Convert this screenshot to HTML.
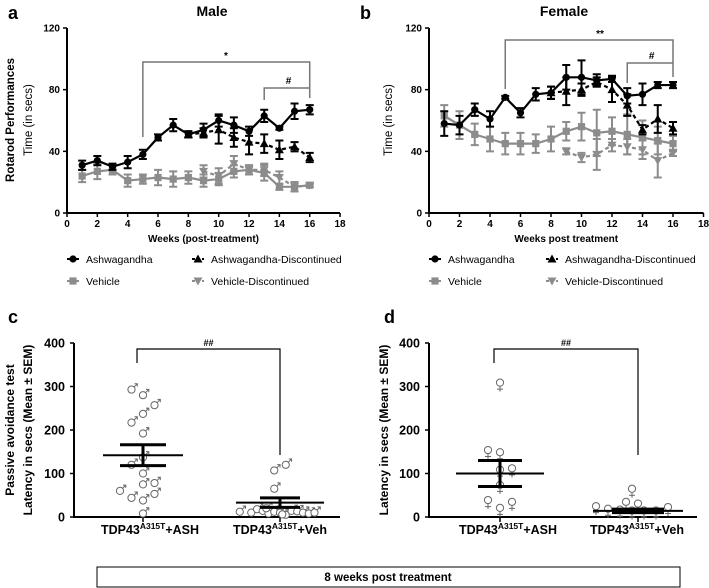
<!DOCTYPE html>
<html><head><meta charset="utf-8">
<style>
html,body{margin:0;padding:0;background:#fff;}
svg{display:block;font-family:"Liberation Sans",Arial,sans-serif;}
</style></head>
<body>
<svg id="fig" width="709" height="588" viewBox="0 0 709 588"></svg>
<script>
const weeks=[1,2,3,4,5,6,7,8,9,10,11,12,13,14,15,16];
const discWeeks=[9,10,11,12,13,14,15,16];
const xTicks=[0,2,4,6,8,10,12,14,16,18];
const yTicksLine=[0,40,80,120];
const yTicksScatter=[0,100,200,300,400];
// Male
const maleAsh=[31,34,30,33,38,49,57,51,54,60,57,53,63,55,66,67];
const maleAshErr=[3,3,2,4,3,2,4,2,4,4,5,3,4,1,5,3];
const maleAshDisc=[52,54,49,46,45,41,43,36];
const maleAshDiscErr=[3,9,6,8,6,6,3,3];
const maleVeh=[24,27,28,21,22,23,22,23,21,22,27,28,26,17,17,18];
const maleVehErr=[4,5,3,4,3,5,5,4,4,4,4,3,5,2,3,1];
const maleVehDisc=[27,24,32,28,28,23,17,18];
const maleVehDiscErr=[4,5,5,3,4,4,3,1];
// Female
const femAsh=[58,57,67,61,75,65,77,78,88,88,86,87,76,77,83,83];
const femAshErr=[8,6,4,5,1,3,4,4,8,11,4,2,5,7,2,2];
const femAshDisc=[79,80,85,80,70,54,61,55];
const femAshDiscErr=[9,4,3,8,7,3,9,4];
const femVeh=[63,57,51,48,45,45,45,48,53,56,52,53,51,49,47,45];
const femVehErr=[7,9,7,8,7,7,6,8,6,9,15,9,13,11,9,5];
const femVehDisc=[40,36,38,44,43,41,34,39];
const femVehDiscErr=[2,3,10,4,5,6,11,2];
// Passive avoidance (c male, d female)
const cAsh=[293,280,257,237,217,192,137,120,100,75,78,60,44,38,53,8];
const cAshCol=[-1,0,1,0,-1,0,0,-1,0,0,1,-2,-1,0,1,0];
const cAshStats=[142,118,166];
const cVeh=[120,107,65,12,10,18,14,8,12,10,5,14,13,10,8,10,20,6];
const cVehCol=[0.5,-0.5,-0.5,-3.5,-2.5,-2,-1.5,-1,-0.5,0,0.5,1,1.5,2,2.5,3,-1.2,0.2];
const cVehStats=[33,22,44];
const dAsh=[302,147,142,102,105,67,32,28,14];
const dAshCol=[0,-1,0,0,1,0,-1,1,0];
const dAshStats=[100,70,130];
const dVeh=[58,28,24,18,16,12,10,8,8,8];
const dVehCol=[-0.5,-1,0,-3.5,2.5,-2.5,-1.5,-0.5,0.5,1.5];
const dVehStats=[14,10,18];

const NS="http://www.w3.org/2000/svg";
const svg=document.getElementById('fig');
function mk(tag,attrs,name,parent){
  const el=document.createElementNS(NS,tag);
  for(const k in attrs) el.setAttribute(k,attrs[k]);
  
  
  (parent||svg).appendChild(el);
  return el;
}
function txt(x,y,s,size,name,anchor,extra){
  const t=mk('text',Object.assign({x:x,y:y,'font-size':size,'font-weight':'bold','text-anchor':anchor||'middle',fill:'#000'},extra||{}),name);
  t.textContent=s;return t;
}
function marker(type,x,y,color,name){
  if(type==='circle') mk('circle',{cx:x,cy:y,r:3.6,fill:color},name);
  else if(type==='square') mk('rect',{x:x-3.6,y:y-3.6,width:7.2,height:7.2,fill:color},name);
  else if(type==='tri') mk('polygon',{points:`${x},${y-4.5} ${x-4.5},${y+3.5} ${x+4.5},${y+3.5}`,fill:color},name);
  else mk('polygon',{points:`${x},${y+4.5} ${x-4.5},${y-3.5} ${x+4.5},${y-3.5}`,fill:color},name);
}
function series(sx,sy,xs,vals,errs,color,dash,type,name){
  let d='';
  xs.forEach((w,i)=>{d+=(i?'L':'M')+sx(w)+','+sy(vals[i]);});
  mk('path',{d:d,fill:'none',stroke:color,'stroke-width':2.2,'stroke-dasharray':dash||'none'},name+'-line');
  xs.forEach((w,i)=>{
    const x=sx(w),y1=sy(vals[i]-errs[i]),y2=sy(vals[i]+errs[i]);
    mk('path',{d:`M${x},${y1}V${y2}M${x-4},${y1}H${x+4}M${x-4},${y2}H${x+4}`,stroke:color,'stroke-width':2,fill:'none'},name+'-errorbar');
    marker(type,x,sy(vals[i]),color,name+'-point');
  });
}
function linePanel(o){
  const sx=w=>o.x0+w*o.kx, sy=v=>o.y0-v*(o.y0-o.y120)/120;
  mk('path',{d:`M${o.x0},${o.y120}V${o.y0}H${sx(18)}`,stroke:'#000','stroke-width':2,fill:'none'},o.p+'-axes');
  yTicksLine.forEach(v=>{
    mk('line',{x1:o.x0-4,x2:o.x0,y1:sy(v),y2:sy(v),stroke:'#000','stroke-width':1.5},o.p+'-y-tick');
    txt(o.x0-7,sy(v)+3.5,String(v),10,o.p+'-y-tick-label','end');
  });
  xTicks.forEach(w=>{
    mk('line',{x1:sx(w),x2:sx(w),y1:o.y0,y2:o.y0+4,stroke:'#000','stroke-width':1.5},o.p+'-x-tick');
    txt(sx(w),o.y0+14,String(w),10,o.p+'-x-tick-label');
  });
  txt((o.x0+sx(18))/2,o.y0+29,o.xt,10,o.p+'-x-axis-title');
  series(sx,sy,discWeeks,o.vd,o.vde,'#8c8c8c','4,3','tridown',o.p+'-vehicle-discontinued');
  series(sx,sy,weeks,o.v,o.ve,'#8c8c8c',null,'square',o.p+'-vehicle');
  series(sx,sy,[8].concat(discWeeks),[o.a[7]].concat(o.ad),[o.ae[7]].concat(o.ade),'#000','4,3','tri',o.p+'-ashwagandha-discontinued');
  series(sx,sy,weeks,o.a,o.ae,'#000',null,'circle',o.p+'-ashwagandha');
  const g='#777';
  mk('path',{d:`M${sx(5)},${o.bl}V${o.by}H${sx(16)}V${o.br}`,stroke:g,'stroke-width':1.5,fill:'none'},o.p+'-significance-bracket');
  mk('path',{d:`M${sx(13)},${o.ibl}V${o.iby}H${sx(16)}`,stroke:g,'stroke-width':1.5,fill:'none'},o.p+'-hash-bracket');
  txt(o.sx,o.by-3,o.star,10,o.p+'-significance-label');
  txt(sx(14.6),o.iby-4,'#',10,o.p+'-hash-label');
  const L=o.legend;
  const items=[['Ashwagandha','#000',null,'circle',L[0],259],['Ashwagandha-Discontinued','#000','3,2','tri',L[2],259],
               ['Vehicle','#8c8c8c',null,'square',L[0],281],['Vehicle-Discontinued','#8c8c8c','3,2','tridown',L[2],281]];
  items.forEach(it=>{
    mk('line',{x1:it[4]-6,x2:it[4]+6,y1:it[5],y2:it[5],stroke:it[1],'stroke-width':2,'stroke-dasharray':it[2]||'none'},o.p+'-legend-line');
    marker(it[3],it[4],it[5],it[1],o.p+'-legend-marker');
    txt(it[4]+13,it[5]+4,it[0],10.5,o.p+'-legend-label','start',{'font-weight':'normal'});
  });
}
linePanel({p:'male',x0:67,kx:15.17,y0:213,y120:28,xt:'Weeks (post-treatment)',a:maleAsh,ae:maleAshErr,ad:maleAshDisc,ade:maleAshDiscErr,
  v:maleVeh,ve:maleVehErr,vd:maleVehDisc,vde:maleVehDiscErr,bl:137,by:62,br:98,ibl:100,iby:88,sx:226,star:'*',legend:[73,0,198]});
linePanel({p:'female',x0:429,kx:15.25,y0:213,y120:28,xt:'Weeks post treatment',a:femAsh,ae:femAshErr,ad:femAshDisc,ade:femAshDiscErr,
  v:femVeh,ve:femVehErr,vd:femVehDisc,vde:femVehDiscErr,bl:89,by:40,br:77,ibl:83,iby:63,sx:600,star:'**',legend:[435,0,552]});

txt(8,19,'a',18,'panel-a-letter','start');
txt(212,16,'Male',14,'male-title');
txt(360,19,'b',18,'panel-b-letter','start');
txt(564,16,'Female',14,'female-title');
txt(0,0,'Rotarod Performances',11.5,'male-y-axis-title','middle',{transform:'translate(14,120) rotate(-90)'});
txt(0,0,'Time (in secs)',11.5,'male-y-axis-subtitle','middle',{transform:'translate(32,120) rotate(-90)','font-weight':'normal'});
txt(0,0,'Time (in secs)',11.5,'female-y-axis-title','middle',{transform:'translate(392,120) rotate(-90)','font-weight':'normal'});

function maleSym(x,y,name){
  mk('circle',{cx:x,cy:y,r:3.6,fill:'#fff',stroke:'#666','stroke-width':1},name);
  mk('path',{d:`M${x+2.5},${y-2.5}L${x+5.5},${y-5.5}M${x+3},${y-5.8}H${x+5.8}V${y-3}`,stroke:'#666','stroke-width':1,fill:'none'},name+'-arrow');
}
function femSym(x,y,name){
  mk('circle',{cx:x,cy:y-3,r:3.6,fill:'#fff',stroke:'#666','stroke-width':1},name);
  mk('path',{d:`M${x},${y+0.6}V${y+6}M${x-3},${y+3.5}H${x+3}`,stroke:'#666','stroke-width':1,fill:'none'},name+'-cross');
}
function scatterPanel(o){
  const sy=v=>o.y0-v*(o.y0-o.y400)/400;
  mk('path',{d:`M${o.x0},${o.y400}V${o.y0}H${o.x1}`,stroke:'#000','stroke-width':2,fill:'none'},o.p+'-axes');
  yTicksScatter.forEach(v=>{
    mk('line',{x1:o.x0-4,x2:o.x0,y1:sy(v),y2:sy(v),stroke:'#000','stroke-width':1.5},o.p+'-y-tick');
    txt(o.x0-9,sy(v)+4.5,String(v),12.5,o.p+'-y-tick-label','end');
  });
  [o.cA,o.cV].forEach(c=>mk('line',{x1:c,x2:c,y1:o.y0,y2:o.y0+5,stroke:'#000','stroke-width':1.5},o.p+'-x-tick'));
  const sym=o.male?maleSym:femSym;
  o.aVals.forEach((v,i)=>sym(o.cA+o.aCol[i]*o.jit,sy(v),o.p+'-ash-point'));
  o.vVals.forEach((v,i)=>sym(o.cV+o.vCol[i]*o.jit,sy(v),o.p+'-veh-point'));
  [[o.cA,o.aStats,o.aw,o.asw,o.p+'-ash'],[o.cV,o.vStats,o.vw,o.vsw,o.p+'-veh']].forEach(s=>{
    const [c,st,w,sw,n]=s;
    mk('line',{x1:c,x2:c,y1:sy(st[1]),y2:sy(st[2]),stroke:'#000','stroke-width':3},n+'-sem-bar');
    mk('line',{x1:c-w,x2:c+w,y1:sy(st[0]),y2:sy(st[0]),stroke:'#000','stroke-width':2},n+'-mean-line');
    mk('line',{x1:c-sw,x2:c+sw,y1:sy(st[1]),y2:sy(st[1]),stroke:'#000','stroke-width':3},n+'-sem-low');
    mk('line',{x1:c-sw,x2:c+sw,y1:sy(st[2]),y2:sy(st[2]),stroke:'#000','stroke-width':3},n+'-sem-high');
  });
  mk('path',{d:`M${o.bx0},363V349H${o.cV}V455`,stroke:'#000','stroke-width':1.2,fill:'none'},o.p+'-significance-bracket');
  txt((o.bx0+o.cV)/2,346,'##',9,o.p+'-significance-label');
  [[o.lA,'+ASH'],[o.lV,'+Veh']].forEach(l=>{
    const t=txt(l[0],534,'',12.5,o.p+'-group-label');
    const a=document.createElementNS(NS,'tspan');a.textContent='TDP43';t.appendChild(a);
    const b=document.createElementNS(NS,'tspan');b.setAttribute('dy','-5');b.setAttribute('font-size','8.5');b.textContent='A315T';t.appendChild(b);
    const c=document.createElementNS(NS,'tspan');c.setAttribute('dy','5');c.textContent=l[1];t.appendChild(c);
  });
}
scatterPanel({p:'male-passive',male:true,x0:74,x1:340,y0:517,y400:343,cA:143,cV:280,jit:11.5,aVals:cAsh,aCol:cAshCol,vVals:cVeh,vCol:cVehCol,
  aStats:cAshStats,vStats:cVehStats,aw:40,asw:23,vw:44,vsw:20,bx0:137,lA:150,lV:280});
scatterPanel({p:'female-passive',male:false,x0:429,x1:697,y0:517,y400:343,cA:500,cV:638,jit:12,aVals:dAsh,aCol:dAshCol,vVals:dVeh,vCol:dVehCol,
  aStats:dAshStats,vStats:dVehStats,aw:44,asw:22,vw:45,vsw:26,bx0:494,lA:508,lV:637});

txt(8,323,'c',18,'panel-c-letter','start');
txt(384,323,'d',18,'panel-d-letter','start');
txt(0,0,'Passive avoidance test',12,'male-passive-y-axis-title','middle',{transform:'translate(14,430) rotate(-90)'});
txt(0,0,'Latency in secs (Mean \u00b1 SEM)',12,'male-passive-y-axis-subtitle','middle',{transform:'translate(32,430) rotate(-90)'});
txt(0,0,'Latency in secs (Mean \u00b1 SEM)',12,'female-passive-y-axis-title','middle',{transform:'translate(388,430) rotate(-90)'});
mk('rect',{x:97,y:567,width:583,height:20,fill:'#fff',stroke:'#000','stroke-width':1},'timepoint-box');
txt(388,581,'8 weeks post treatment',11.5,'timepoint-label');
</script>
</body></html>
